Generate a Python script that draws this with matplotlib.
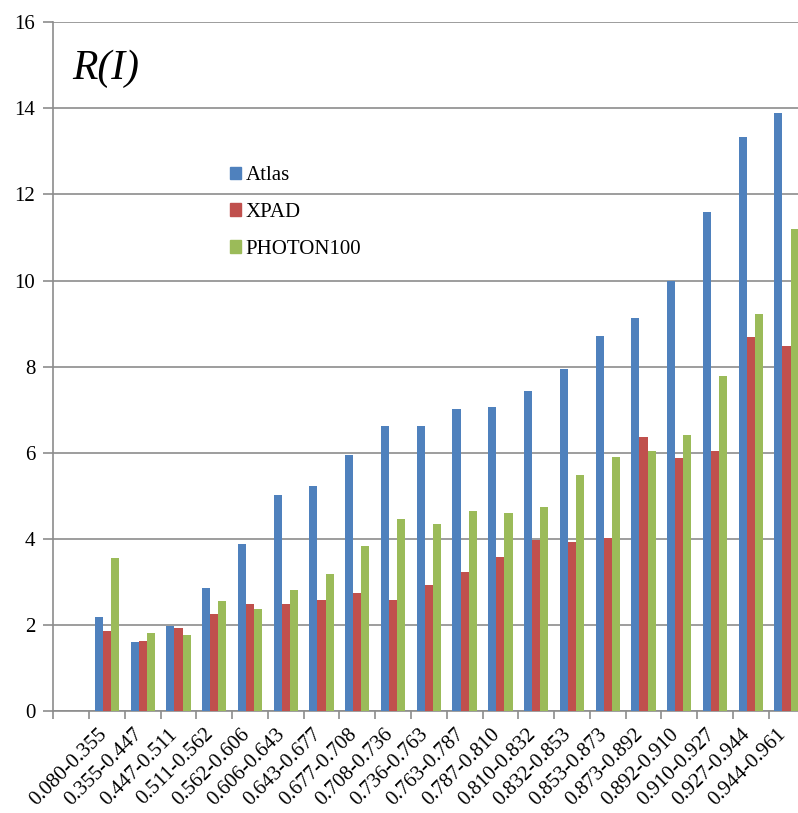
import numpy as np
import matplotlib
matplotlib.use("Agg")
import matplotlib.pyplot as plt
from matplotlib.patches import Patch

plt.rcParams['font.family'] = ['Liberation Serif', 'DejaVu Serif']

# bins of the x axis
bins = ['0.080-0.355', '0.355-0.447', '0.447-0.511', '0.511-0.562', '0.562-0.606',
        '0.606-0.643', '0.643-0.677', '0.677-0.708', '0.708-0.736', '0.736-0.763',
        '0.763-0.787', '0.787-0.810', '0.810-0.832', '0.832-0.853', '0.853-0.873',
        '0.873-0.892', '0.892-0.910', '0.910-0.927', '0.927-0.944', '0.944-0.961']

atlas = [2.18, 1.60, 1.97, 2.85, 3.87, 5.02, 5.22, 5.95, 6.61, 6.61,
         7.02, 7.07, 7.44, 7.95, 8.71, 9.12, 9.99, 11.59, 13.34, 13.89]
xpad = [1.87, 1.63, 1.92, 2.26, 2.48, 2.48, 2.58, 2.75, 2.58, 2.92,
        3.24, 3.58, 3.97, 3.92, 4.02, 6.37, 5.88, 6.04, 8.68, 8.49]
photon = [3.55, 1.82, 1.77, 2.55, 2.36, 2.80, 3.19, 3.83, 4.46, 4.34,
          4.65, 4.60, 4.73, 5.48, 5.90, 6.04, 6.41, 7.78, 9.22, 11.20]

names = ['Atlas', 'XPAD', 'PHOTON100']
colors = ['#4F81BD', '#C0504D', '#9BBB59']

fig = plt.figure(figsize=(7.98, 8.13), dpi=100)
ax = fig.add_axes([53.3 / 798, 102 / 813, (804.4 - 53.3) / 798, (711 - 22.3) / 813])

x = np.arange(len(bins))
w = 0.227
for i, (vals, c) in enumerate(zip([atlas, xpad, photon], colors)):
    ax.bar(x + (i - 1) * w, vals, w, color=c, zorder=3)

ax.set_xlim(-1.5, len(bins) - 0.5)
ax.set_ylim(0, 16)
ax.set_yticks(np.arange(0, 17, 2))
ax.yaxis.grid(True, color='#8c8c8c', lw=1.2, zorder=0)

ax.set_xticks(x + 0.1)
ax.set_xticklabels(bins, rotation=45, ha='right', va='top', fontsize=15)
ax.tick_params(axis='x', length=0, pad=10)
ax.set_xticks(np.arange(-1.5, len(bins)), minor=True)
ax.tick_params(axis='x', which='minor', length=6, color='#8c8c8c', width=1.2)
ax.tick_params(axis='y', length=7, color='#8c8c8c', width=1.2, labelsize=15, pad=6)

for s in ['top', 'right']:
    ax.spines[s].set_visible(False)
for s in ['left', 'bottom']:
    ax.spines[s].set_color('#8c8c8c')
    ax.spines[s].set_linewidth(1.2)

handles = [Patch(color=c, label=n) for n, c in zip(names, colors)]
ax.legend(handles=handles, loc='upper left', bbox_to_anchor=(0.21, 0.818),
          frameon=False, fontsize=15, handlelength=0.55, handleheight=0.55,
          handletextpad=0.2, labelspacing=0.85)

fig.text(72 / 798, (813 - 79) / 813, 'R(I)', fontsize=30, style='italic', va='baseline')

fig.savefig('out.png', dpi=100)
